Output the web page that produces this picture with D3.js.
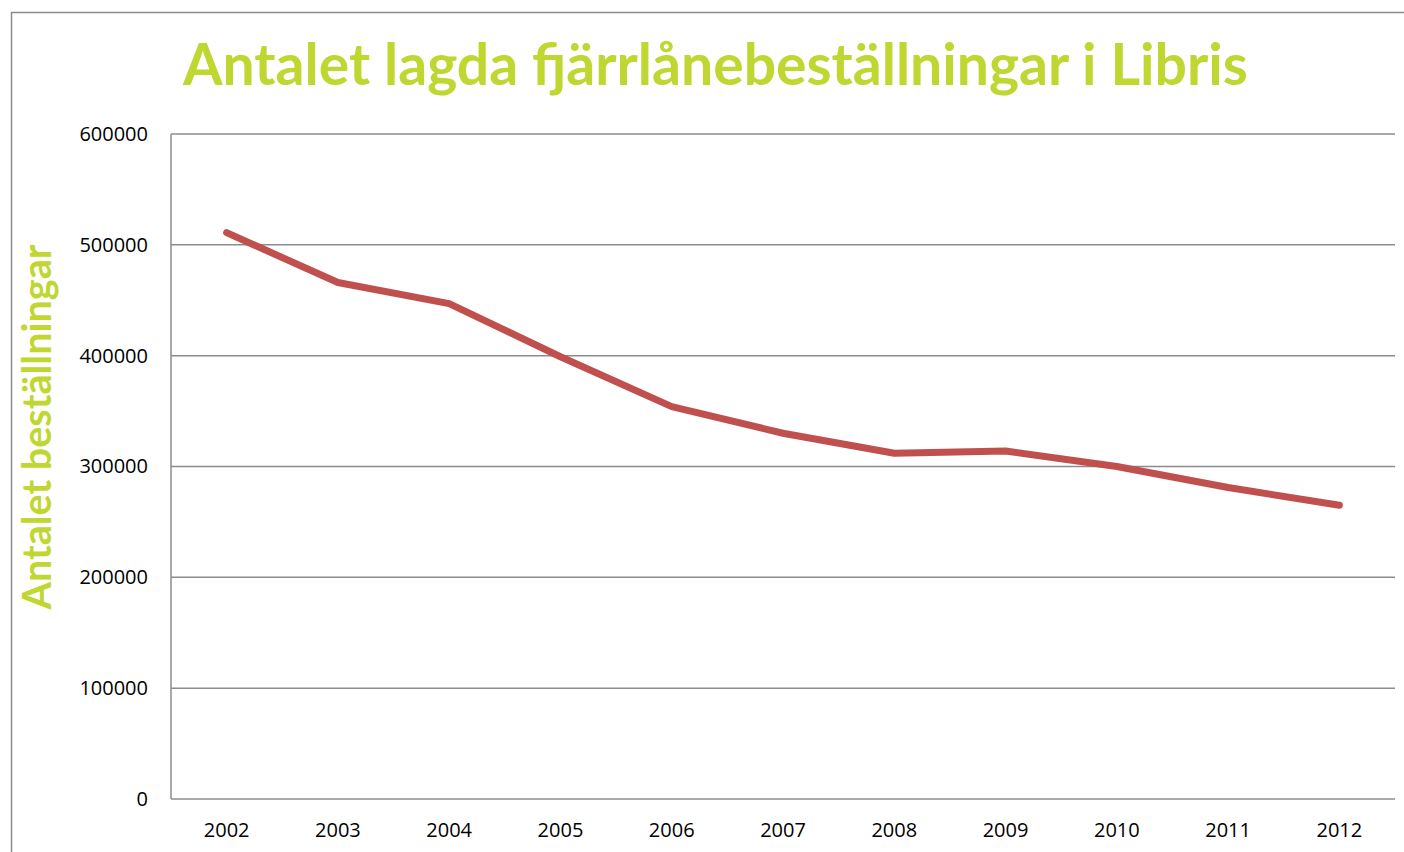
<!DOCTYPE html>
<html>
<head>
<meta charset="utf-8">
<script src="https://cdn.jsdelivr.net/npm/d3@7"></script>
<style>
  body { margin: 0; background: #fff; }
  svg { display: block; }
</style>
</head>
<body>
<div id="chart"></div>
<script>
// data
var years = ["2002","2003","2004","2005","2006","2007","2008","2009","2010","2011","2012"];
var orders = [511000, 466000, 447000, 399000, 354000, 330000, 312000, 314000, 300000, 281000, 265000];
var yTicks = [0, 100000, 200000, 300000, 400000, 500000, 600000];

var width = 1404, height = 852;
var margin = {top: 134, right: 9, bottom: 53, left: 171};
var lime = "#bfd730";

var svg = d3.select("#chart").append("svg")
  .attr("width", width)
  .attr("height", height);

// outer chart frame, runs off the right and bottom edges
svg.append("rect")
  .attr("x", 11.5).attr("y", 12.5)
  .attr("width", width + 20).attr("height", height + 20)
  .attr("fill", "none")
  .attr("stroke", "#8c8c8c")
  .attr("stroke-width", 1.5);

var x = d3.scaleBand()
  .domain(years)
  .range([margin.left, width - margin.right]);

var y = d3.scaleLinear()
  .domain([0, 600000])
  .range([height - margin.bottom, margin.top]);

// gridlines
svg.append("g")
  .selectAll("line")
  .data(yTicks)
  .enter()
  .append("line")
  .attr("x1", margin.left)
  .attr("x2", width - margin.right)
  .attr("y1", function(d){ return y(d); })
  .attr("y2", function(d){ return y(d); })
  .attr("stroke", "#8c8c8c")
  .attr("stroke-width", 1.5);

// left axis line
svg.append("line")
  .attr("x1", margin.left).attr("x2", margin.left)
  .attr("y1", margin.top).attr("y2", height - margin.bottom)
  .attr("stroke", "#8c8c8c")
  .attr("stroke-width", 1.5);

// y axis labels
var yAxis = svg.append("g")
  .attr("transform", "translate(" + (margin.left - 23) + ",0)")
  .call(d3.axisLeft(y).tickValues(yTicks).tickSize(0).tickPadding(0).tickFormat(d3.format("d")));
yAxis.select(".domain").remove();
yAxis.selectAll("text")
  .attr("font-family", "'Open Sans', sans-serif")
  .attr("font-size", "20px")
  .attr("fill", "#000");

// x axis labels
var xAxis = svg.append("g")
  .attr("transform", "translate(0," + (height - margin.bottom) + ")")
  .call(d3.axisBottom(x).tickSize(0).tickPadding(24));
xAxis.select(".domain").remove();
xAxis.selectAll("text")
  .attr("font-family", "'Open Sans', sans-serif")
  .attr("font-size", "20px")
  .attr("fill", "#000");

// the series
var line = d3.line()
  .x(function(d, i){ return x(years[i]) + x.bandwidth() / 2; })
  .y(function(d){ return y(d); });

svg.append("path")
  .datum(orders)
  .attr("d", line)
  .attr("fill", "none")
  .attr("stroke", "#c0504d")
  .attr("stroke-width", 7)
  .attr("stroke-linecap", "round")
  .attr("stroke-linejoin", "round");

// fit a text element to a wanted width by changing its font size
function fitText(sel, wanted){
  var size = parseFloat(sel.attr("font-size"));
  var len = sel.node().getComputedTextLength();
  sel.attr("font-size", (size * wanted / len).toFixed(2) + "px");
}

var title = svg.append("text")
  .attr("x", 183)
  .attr("y", 85)
  .attr("font-family", "Lato, 'Open Sans', sans-serif")
  .attr("font-weight", "bold")
  .attr("font-size", "54px")
  .attr("fill", lime)
  .text("Antalet lagda fjärrlånebeställningar i Libris");
fitText(title, 1065);

var yTitle = svg.append("text")
  .attr("transform", "translate(51,427) rotate(-90)")
  .attr("text-anchor", "middle")
  .attr("font-family", "Lato, 'Open Sans', sans-serif")
  .attr("font-weight", "bold")
  .attr("font-size", "30px")
  .attr("fill", lime)
  .text("Antalet beställningar");
fitText(yTitle, 365);
</script>
</body>
</html>
